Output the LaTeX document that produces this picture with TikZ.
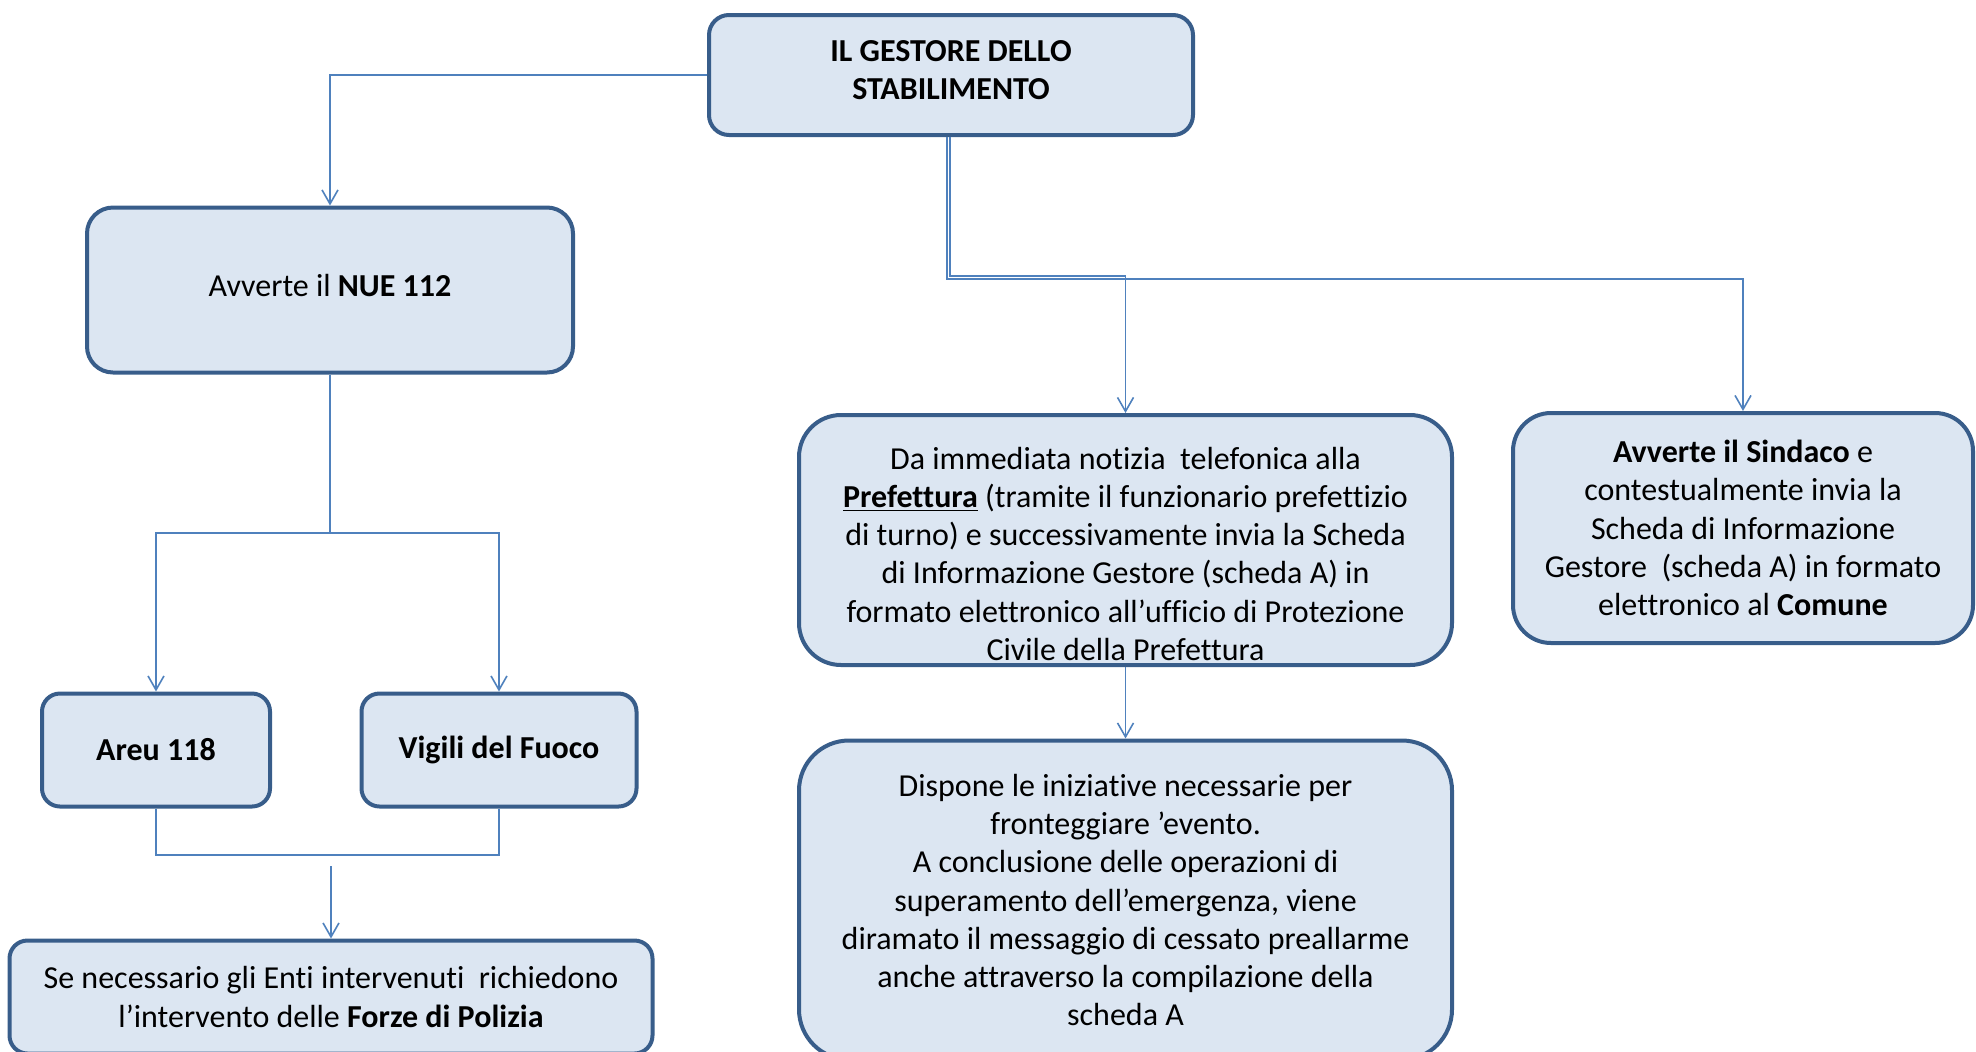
\documentclass[tikz,border=0pt]{standalone}
\usepackage{fontspec}
\setmainfont{Carlito}[Ligatures={NoCommon}]
\usetikzlibrary{arrows.meta}

\definecolor{boxfill}{HTML}{DCE6F2}
\definecolor{boxline}{HTML}{385D8A}
\definecolor{linkcol}{HTML}{4F81BD}

\begin{document}
\begin{tikzpicture}[x=0.5pt,y=-0.5pt,
	box/.style={draw=boxline,fill=boxfill,line width=2pt,align=center,inner sep=0pt,
		font=\fontsize{16}{19.1}\selectfont},
	link/.style={draw=linkcol,line width=0.8pt},
	arr/.style={link,-{Straight Barb[length=7pt,width=8pt,line width=0.8pt]}}]
	\useasboundingbox (0,0) rectangle (1976,1051);
	\node (gestore) [box,minimum width=242pt,minimum height=60pt,rounded corners=10pt]
		at (951,75) {\textbf{IL GESTORE DELLO}\\\textbf{STABILIMENTO}\rule[-5pt]{0pt}{5pt}};
	\node (nue) [box,minimum width=243pt,minimum height=82.5pt,rounded corners=13pt]
		at (330,290) {Avverte il \textbf{NUE 112}\rule[-5pt]{0pt}{5pt}};
	\node (areu) [box,minimum width=114pt,minimum height=56.5pt,rounded corners=9pt]
		at (156,750) {\textbf{Areu 118}};
	\node (vigili) [box,minimum width=137.5pt,minimum height=56.5pt,rounded corners=9pt]
		at (499,750) {\textbf{Vigili del Fuoco}};
	\node (forze) [box,minimum width=321.5pt,minimum height=56.5pt,rounded corners=9pt]
		at (331,997) {Se necessario gli Enti intervenuti\ \ richiedono\\l’intervento delle \textbf{Forze di Polizia}};
	\node (pref) [box,minimum width=326.5pt,minimum height=125pt,rounded corners=21pt]
		at (1125.5,540) {\rule{0pt}{25pt}Da immediata notizia\ \ telefonica alla\\
		\underline{\textbf{Prefettura}} (tramite il funzionario prefettizio\\
		di turno) e successivamente invia la Scheda\\
		di Informazione Gestore (scheda A) in\\
		formato elettronico all’ufficio di Protezione\\
		Civile della Prefettura};
	\node (sind) [box,minimum width=230pt,minimum height=115pt,rounded corners=19pt]
		at (1743,528) {\textbf{Avverte il Sindaco} e\\
		contestualmente invia la\\
		Scheda di Informazione\\
		Gestore\ \ (scheda A) in formato\\
		elettronico al \textbf{Comune}};
	\node (disp) [box,minimum width=326.5pt,minimum height=159.5pt,rounded corners=25pt]
		at (1125.5,900) {Dispone le iniziative necessarie per\\
		fronteggiare ’evento.\\
		A conclusione delle operazioni di\\
		superamento dell’emergenza, viene\\
		diramato il messaggio di cessato preallarme\\
		anche attraverso la compilazione della\\
		scheda A};
	\coordinate (gsplit) at (950,276);
	\coordinate (nsplit) at (330,533);
	\coordinate (fstart) at (forze.north |- 0,866);
	\draw[arr] (gestore.west) -| (nue.north);
	\draw[arr] ([xshift=-0.5pt]gestore.south) |- (gsplit) -| (pref.north);
	\draw[arr] ([xshift=-2pt]gestore.south) |- ([yshift=-1.5pt]gsplit) -| (sind.north);
	\draw[link] (nue.south) -- (nsplit);
	\draw[arr] (nsplit) -| (areu.north);
	\draw[arr] (nsplit) -| (vigili.north);
	\draw[link] (areu.south) -- (areu.south |- 0,855) -| (vigili.south);
	\draw[arr] (fstart) -- (forze.north);
	\draw[arr] (pref.south) -- (disp.north);
\end{tikzpicture}
\end{document}
